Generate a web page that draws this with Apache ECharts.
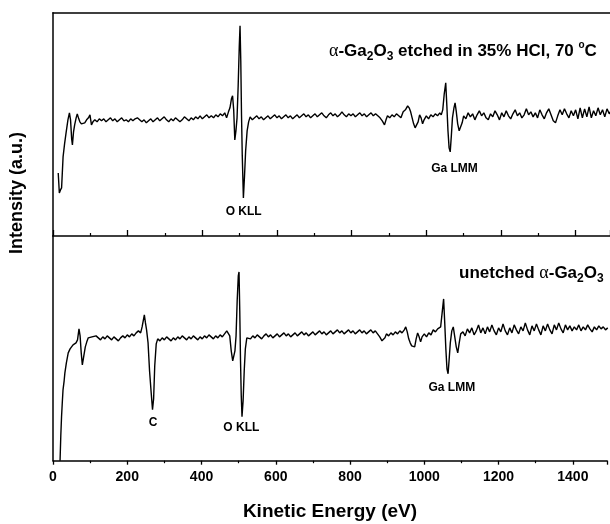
<!DOCTYPE html>
<html><head><meta charset="utf-8">
<script src="https://cdn.jsdelivr.net/npm/echarts@6/dist/echarts.min.js"></script>
<style>html,body{margin:0;padding:0;background:#fff}#c{width:610px;height:524px}</style>
</head><body><div id="c"></div>
<script>
// Energy axis ticks
const xTicks = [0, 200, 400, 600, 800, 1000, 1200, 1400];
// Etched sample (top panel): kinetic energy (eV) and intensity (a.u.)
const etchedEnergy = [14,17,20,23,27,31,35,40,44,47,50,52,55,58,62,65,69,72,76,80,85,90,95,99,103,107,112,118,124,130,136,142,148,154,160,166,172,178,184,190,196,202,208,214,220,226,232,238,244,250,256,262,268,274,280,286,292,298,304,310,316,322,328,334,340,346,352,358,364,370,376,382,388,394,400,406,412,418,424,430,436,442,448,454,460,465,470,474,478,481,484,487,490,493,496,499,501,503,505,507,510,513,516,520,524,528,534,540,546,552,558,564,570,576,582,588,594,600,606,612,618,624,630,636,642,648,654,660,666,672,678,684,690,696,702,708,714,720,726,732,738,744,750,756,762,768,774,780,786,792,798,804,810,816,822,828,834,840,846,852,858,864,870,876,882,888,892,896,902,908,914,920,926,932,938,944,950,954,958,962,966,970,974,978,982,986,990,994,1000,1006,1012,1018,1024,1030,1036,1040,1044,1048,1052,1055,1058,1061,1064,1067,1070,1074,1077,1080,1084,1088,1092,1096,1100,1106,1112,1118,1124,1130,1136,1142,1148,1154,1160,1166,1172,1178,1184,1190,1196,1202,1208,1214,1220,1226,1232,1238,1244,1250,1256,1262,1268,1274,1280,1286,1292,1298,1304,1310,1316,1322,1328,1334,1340,1346,1352,1358,1364,1370,1376,1382,1388,1394,1400,1406,1412,1418,1424,1430,1436,1442,1448,1454,1460,1466,1472,1478,1484,1490,1496];
const etchedIntensity = [63,43,46,48,79,92,103,116,123,116,97,91,104,111,118,122,117,114,112,111,113,116,118,121,111,114,116,114,117,115,117,114,116,118,115,117,114,116,118,115,116,114,117,115,117,118,116,114,116,113,115,117,114,116,118,115,117,119,116,114,117,115,118,116,114,116,119,117,115,118,116,119,117,120,117,119,121,118,120,118,121,119,122,120,123,118,124,128,137,140,126,96,105,118,150,190,210,175,120,80,38,60,85,105,114,119,116,118,120,117,119,116,118,120,117,119,121,118,120,117,119,121,118,120,117,119,121,118,120,122,119,121,118,120,122,119,121,123,120,118,121,123,120,122,119,121,124,121,119,122,120,122,119,121,123,120,122,119,121,123,120,122,120,118,115,111,116,120,118,121,119,122,120,118,124,126,130,128,124,118,112,108,107,114,121,118,112,116,120,117,121,119,122,120,123,121,126,142,153,130,105,88,84,100,118,128,133,125,112,105,104,113,
  120,117,123,119,122,116,121,125,120,123,118,116,122,119,125,121,116,123,119,125,120,117,122,126,120,123,118,121,127,121,124,119,123,118,126,121,117,123,127,121,115,113,120,126,121,127,122,118,125,120,126,117,128,118,127,119,129,118,125,120,128,121,126,119,127,122,126];
// Unetched sample (bottom panel)
const unetchedEnergy = [19,21,23,25,27,30,32,36,41,46,50,54,58,62,66,70,73,76,79,83,87,91,95,100,105,110,116,122,128,134,140,146,152,158,164,170,176,182,188,194,200,206,212,218,224,230,236,240,243,246,249,252,256,260,264,268,271,274,278,282,288,294,300,306,312,318,324,330,336,342,348,354,360,366,372,378,384,390,396,402,408,414,420,426,432,438,444,450,456,462,468,472,476,480,484,487,490,493,496,499,501,503,505,507,509,512,515,518,522,526,532,538,544,550,556,562,568,574,580,586,592,598,604,610,616,622,628,634,640,646,652,658,664,670,676,682,688,694,700,706,712,718,724,730,736,742,748,754,760,766,772,778,784,790,796,802,808,814,820,826,832,838,844,850,856,862,868,874,880,886,890,894,898,904,910,916,922,928,934,940,946,950,954,958,962,966,970,974,978,982,986,990,994,1000,1006,1012,1018,1024,1030,1036,1040,1044,1048,1052,1055,1058,1061,1064,1067,1070,1074,1078,1082,1086,1090,1094,1098,1104,1110,1116,1122,1128,1134,1140,1146,1152,1158,1164,1170,1176,1182,1188,1194,1200,1206,1212,1218,1224,1230,1236,1242,1248,1254,1260,1266,1272,1278,1284,1290,1296,1302,1308,1314,1320,1326,1332,1338,1344,1350,1356,1362,1368,1374,1380,1386,1392,1398,1404,1410,1416,1422,1428,1434,1440,1446,1452,1458,1464,1470,1476,1482,1488,1494];
const unetchedIntensity = [0,25,44,58,71,80,88,98,108,112,111,116,114,118,121,132,125,108,96,105,114,119,123,121,124,122,125,123,121,124,122,125,123,121,124,122,120,123,125,123,126,124,127,125,128,130,128,134,140,146,138,131,118,90,70,51,62,95,117,122,120,123,121,124,122,120,123,121,124,122,125,123,121,124,122,125,123,121,124,122,125,123,126,124,122,125,123,126,124,127,130,132,125,110,100,98,110,125,160,185,189,150,100,65,44,60,90,112,123,125,122,125,123,126,124,122,125,127,124,126,123,125,127,124,126,128,125,127,124,126,128,125,127,129,126,128,125,127,129,126,128,130,127,129,126,128,130,127,129,131,128,130,127,129,131,128,130,127,129,131,128,130,127,129,131,128,130,127,124,120,118,123,127,125,128,126,129,127,130,128,131,134,129,122,118,115,113,114,122,128,124,119,124,127,124,128,126,131,129,132,130,134,148,162,138,112,92,87,102,118,130,134,124,114,108,118,127,
  129,125,132,128,133,126,130,136,128,133,127,134,129,136,130,126,133,129,137,130,126,133,128,136,131,127,134,130,138,131,126,135,130,137,131,126,135,130,137,131,127,136,131,138,132,128,136,131,135,130,134,131,136,130,134,131,136,132,129,134,131,135,132,134,131,133];
const peakLabels = ['O KLL', 'Ga LMM', 'C'];

const FONT = "'Liberation Sans', Arial, sans-serif";
const toPairs = (xs, ys) => xs.map((x, i) => [x, ys[i]]);
const X_MAX = 1492;

const chart = echarts.init(document.getElementById('c'), null, {renderer: 'canvas'});
const lineBlack = {color: '#000', width: 1.5};
const axisCommon = {
  type: 'value', min: 0, max: X_MAX, interval: 200,
  splitLine: {show: false},
  axisLine: {show: true, onZero: false, lineStyle: lineBlack}
};
const rich = (size) => ({
  b: {fontFamily: FONT, fontWeight: 'bold', fontSize: size, lineHeight: size + 6, verticalAlign: 'middle', color: '#000'},
  a: {fontFamily: "'Liberation Serif', 'Times New Roman', serif", fontSize: size + 1, lineHeight: size + 6, verticalAlign: 'middle', color: '#000'},
  s: {fontFamily: FONT, fontWeight: 'bold', fontSize: Math.round(size * 0.7), lineHeight: Math.round(size * 0.7), verticalAlign: 'bottom', color: '#000'},
  p: {fontFamily: FONT, fontWeight: 'bold', fontSize: Math.round(size * 0.6), lineHeight: Math.round(size * 0.6), verticalAlign: 'top', color: '#000'}
});
const txt = (x, y, text, size) => ({
  type: 'text', x: x, y: y, silent: true,
  style: {text: text, fill: '#000', font: `bold ${size}px ${FONT}`, align: 'center', verticalAlign: 'middle'}
});
const richTxt = (x, y, text, size) => ({
  type: 'text', x: x, y: y, silent: true,
  style: {text: text, rich: rich(size), align: 'left', verticalAlign: 'middle'}
});
const hiddenY = (gi, max) => ({type: 'value', gridIndex: gi, min: 0, max: max,
  axisLine: {show: true, onZero: false, lineStyle: lineBlack}, axisTick: {show: false}, axisLabel: {show: false}, splitLine: {show: false}});

chart.setOption({
  animation: false,
  backgroundColor: '#fff',
  grid: [
    {left: 53, right: 0, top: 12.7, height: 223.3},
    {left: 53, right: 0, top: 236, height: 224.7}
  ],
  xAxis: [
    Object.assign({}, axisCommon, {gridIndex: 0, position: 'bottom', axisLabel: {show: false},
      axisTick: {show: true, inside: true, length: 6, lineStyle: {color: '#000', width: 1.3}},
      minorTick: {show: true, splitNumber: 2, length: 3, lineStyle: {color: '#000', width: 1.2}}}),
    Object.assign({}, axisCommon, {gridIndex: 1, position: 'bottom',
      axisTick: {show: true, inside: false, length: 4, lineStyle: {color: '#000', width: 1.3}},
      minorTick: {show: true, splitNumber: 2, length: 2.5, lineStyle: {color: '#000', width: 1.2}},
      axisLabel: {show: true, margin: 9, color: '#000', fontFamily: FONT, fontWeight: 'bold', fontSize: 14,
        formatter: (v) => xTicks.includes(v) ? String(v) : ''},
      name: 'Kinetic Energy (eV)', nameLocation: 'middle', nameGap: 42,
      nameTextStyle: {color: '#000', fontFamily: FONT, fontWeight: 'bold', fontSize: 19}}),
    Object.assign({}, axisCommon, {gridIndex: 0, position: 'top', axisLabel: {show: false}, axisTick: {show: false}})
  ],
  yAxis: [hiddenY(0, 223), hiddenY(1, 225)],
  series: [
    {type: 'line', xAxisIndex: 0, yAxisIndex: 0, data: toPairs(etchedEnergy, etchedIntensity), showSymbol: false,
      lineStyle: {color: '#000', width: 1.4}, clip: true},
    {type: 'line', xAxisIndex: 1, yAxisIndex: 1, data: toPairs(unetchedEnergy, unetchedIntensity), showSymbol: false,
      lineStyle: {color: '#000', width: 1.4}, clip: true}
  ],
  graphic: [
    richTxt(329, 51.5, '{a|α}{b|-Ga}{s|2}{b|O}{s|3}{b| etched in 35% HCl, 70 }{p|o}{b|C}', 17),
    richTxt(459, 273, '{b|unetched }{a|α}{b|-Ga}{s|2}{b|O}{s|3}', 17),
    txt(243.7, 211.3, peakLabels[0], 12),
    txt(454.5, 169, peakLabels[1], 12),
    txt(153, 422.5, peakLabels[2], 12),
    txt(241.3, 427.5, peakLabels[0], 12),
    txt(451.8, 387.5, peakLabels[1], 12),
    {type: 'text', x: 17, y: 193, rotation: Math.PI / 2, silent: true,
      style: {text: 'Intensity (a.u.)', fill: '#000', font: `bold 18px ${FONT}`, align: 'center', verticalAlign: 'middle'}}
  ]
});
</script></body></html>
